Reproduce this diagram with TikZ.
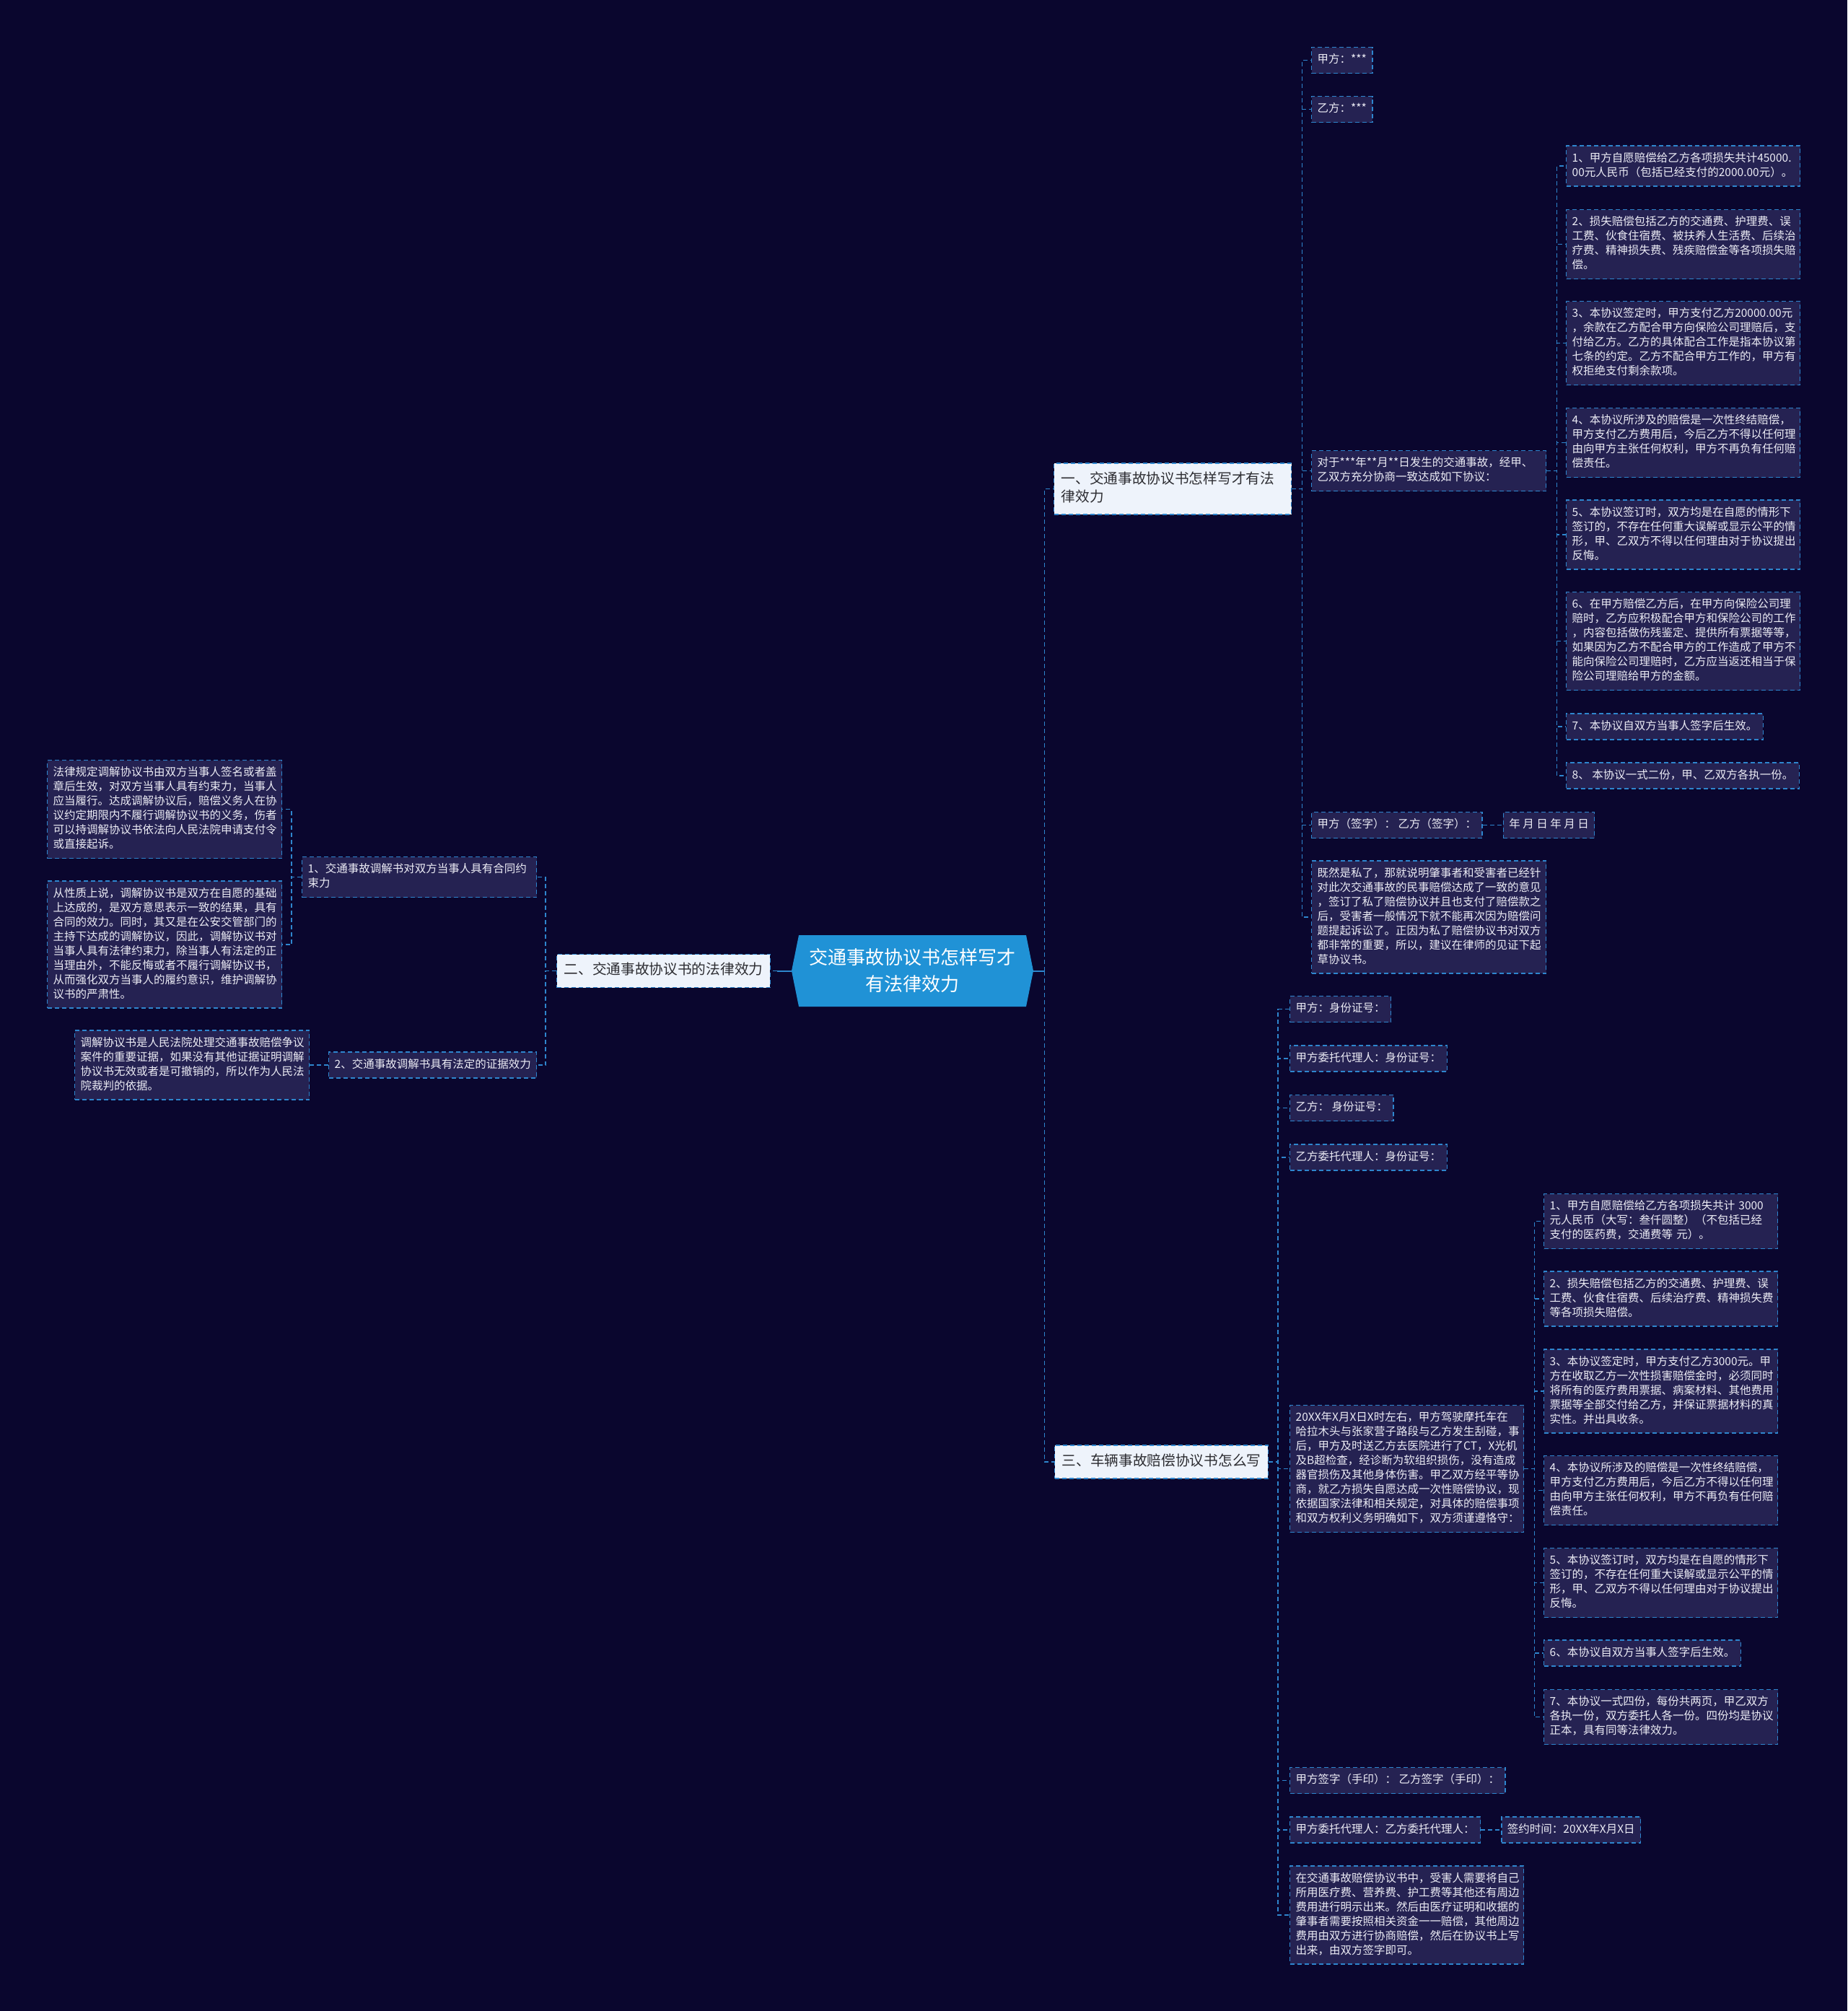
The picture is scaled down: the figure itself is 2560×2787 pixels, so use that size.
\documentclass[tikz,border=0pt]{standalone}
\usepackage{fontspec}
\newfontfamily\cjkfont{Noto Sans CJK SC}
\usepackage{xcolor}
\usepackage{tikz}
\usetikzlibrary{positioning}
\definecolor{pagebg}{RGB}{10,6,46}
\definecolor{leafbg}{RGB}{37,34,82}
\definecolor{lineblue}{RGB}{46,134,206}
\definecolor{rootblue}{RGB}{32,146,214}
\definecolor{branchbg}{RGB}{238,243,251}
\definecolor{leaftext}{RGB}{236,236,245}
\definecolor{branchtext}{RGB}{45,45,50}
\newcommand\leaffont{\cjkfont\fontsize{15.5}{20}\selectfont}
\newcommand\branchfont{\cjkfont\fontsize{19.7}{25}\selectfont}
\newcommand\rootfont{\cjkfont\fontsize{26}{37}\selectfont}
\tikzset{
  lbox/.style={rectangle,draw=lineblue,fill=leafbg,text=leaftext,font=\leaffont,
               line width=1.3pt,dash pattern=on 6pt off 4pt,inner xsep=8pt,inner ysep=8pt,
               anchor=west,align=left,execute at begin node=\strut,execute at end node=\strut},
  lboxw/.style={lbox,text width=#1},
  lboxw/.default=308pt,
  bbox/.style={rectangle,draw=lineblue,fill=branchbg,text=branchtext,font=\branchfont,
               line width=1.3pt,dash pattern=on 6pt off 4pt,inner xsep=10pt,inner ysep=10.5pt,
               anchor=west,align=left,execute at begin node=\strut,execute at end node=\strut},
  rootbox/.style={minimum width=335pt,minimum height=99pt,inner sep=0pt,text=white,
               font=\rootfont,align=center},
  conn/.style={draw=lineblue,line width=1.3pt,dash pattern=on 6pt off 4pt},
  rootline/.style={draw=lineblue,line width=2pt},
}

\begin{document}
\begin{tikzpicture}[x=1pt,y=-1pt]
  \useasboundingbox (0,0) rectangle (2560,2787);
  \fill[pagebg] (0,0) rectangle (2560,2787);

  % --- 中心主题 ---
  \coordinate (rootc) at (1264.5,1345.5);
  \fill[rootblue] (rootc) ++(-167.5,0) -- ++(10,-49.5) -- ++(315,0) -- ++(10,49.5)
    -- ++(-10,49.5) -- ++(-315,0) -- cycle;
  \node[rootbox] (root) at (rootc) {交通事故协议书怎样写才\\有法律效力};

  % --- 三个分支 ---
  \node[bbox,text width=309pt] (b1) at (1460,677.5) {一、交通事故协议书怎样写才有法\\律效力};
  \node[bbox] (b2) at (771,1345.5) {二、交通事故协议书的法律效力};
  \node[bbox] (b3) at (1461,2026) {三、车辆事故赔偿协议书怎么写};

  \draw[rootline] (root.east) -- ++(15,0) coordinate (trunk);
  \foreach \b in {b1,b3} \draw[conn] (trunk) |- (\b.west);
  \draw[rootline] (root.west) -- ++(-20,0) coordinate (lstub);
  \draw[conn] (lstub) -- (b2.east);

  % --- 分支一 ---
  \node[lbox] (jia1) at (1817,83.5) {甲方：***};
  \node[lbox] (yi1) at (1817,151.5) {乙方：***};
  \node[lboxw=309pt] (duiyu) at (1817,652.5)
    {对于***年**月**日发生的交通事故，经甲、\\乙双方充分协商一致达成如下协议：};
  \node[lbox] (sign1) at (1817,1143.5) {甲方（签字）： 乙方（签字）：};
  \node[lbox, right=28pt of sign1] (date1) {年 月 日 年 月 日};
  \node[lboxw=309pt] (jiran) at (1817,1271)
    {既然是私了，那就说明肇事者和受害者已经针\\对此次交通事故的民事赔偿达成了一致的意见\\，签订了私了赔偿协议并且也支付了赔偿款之\\后，受害者一般情况下就不能再次因为赔偿问\\题提起诉讼了。正因为私了赔偿协议书对双方\\都非常的重要，所以，建议在律师的见证下起\\草协议书。};

  \node[lboxw] (c1) at (2170,230)
    {1、甲方自愿赔偿给乙方各项损失共计45000.\\00元人民币（包括已经支付的2000.00元）。};
  \node[lboxw] (c2) at (2170,338.5)
    {2、损失赔偿包括乙方的交通费、护理费、误\\工费、伙食住宿费、被扶养人生活费、后续治\\疗费、精神损失费、残疾赔偿金等各项损失赔\\偿。};
  \node[lboxw] (c3) at (2170,475.5)
    {3、本协议签定时，甲方支付乙方20000.00元\\，余款在乙方配合甲方向保险公司理赔后，支\\付给乙方。乙方的具体配合工作是指本协议第\\七条的约定。乙方不配合甲方工作的，甲方有\\权拒绝支付剩余款项。};
  \node[lboxw] (c4) at (2170,613.5)
    {4、本协议所涉及的赔偿是一次性终结赔偿，\\甲方支付乙方费用后，今后乙方不得以任何理\\由向甲方主张任何权利，甲方不再负有任何赔\\偿责任。};
  \node[lboxw] (c5) at (2170,741)
    {5、本协议签订时，双方均是在自愿的情形下\\签订的，不存在任何重大误解或显示公平的情\\形，甲、乙双方不得以任何理由对于协议提出\\反悔。};
  \node[lboxw] (c6) at (2170,888.5)
    {6、在甲方赔偿乙方后，在甲方向保险公司理\\赔时，乙方应积极配合甲方和保险公司的工作\\，内容包括做伤残鉴定、提供所有票据等等，\\如果因为乙方不配合甲方的工作造成了甲方不\\能向保险公司理赔时，乙方应当返还相当于保\\险公司理赔给甲方的金额。};
  \node[lbox] (c7) at (2170,1007) {7、本协议自双方当事人签字后生效。};
  \node[lbox] (c8) at (2170,1075) {8、 本协议一式二份，甲、乙双方各执一份。};

  \foreach \c in {jia1,yi1,duiyu,sign1,jiran}
    \draw[conn] (b1.east) -- ++(14,0) |- (\c.west);
  \foreach \i in {1,...,8}
    \draw[conn] (duiyu.east) -- ++(14,0) |- (c\i.west);
  \draw[conn] (sign1) -- (date1);

  % --- 分支二 ---
  \node[lboxw=309pt] (law1) at (418,1215.5) {1、交通事故调解书对双方当事人具有合同约\\束力};
  \node[lbox] (law2) at (455,1476) {2、交通事故调解书具有法定的证据效力};
  \node[lboxw=309pt] (lawA) at (65,1121.5)
    {法律规定调解协议书由双方当事人签名或者盖\\章后生效，对双方当事人具有约束力，当事人\\应当履行。达成调解协议后，赔偿义务人在协\\议约定期限内不履行调解协议书的义务，伤者\\可以持调解协议书依法向人民法院申请支付令\\或直接起诉。};
  \node[lboxw=309pt] (lawB) at (65,1309)
    {从性质上说，调解协议书是双方在自愿的基础\\上达成的，是双方意思表示一致的结果，具有\\合同的效力。同时，其又是在公安交管部门的\\主持下达成的调解协议，因此，调解协议书对\\当事人具有法律约束力，除当事人有法定的正\\当理由外，不能反悔或者不履行调解协议书，\\从而强化双方当事人的履约意识，维护调解协\\议书的严肃性。};
  \node[lboxw=309pt] (lawC) at (103,1476)
    {调解协议书是人民法院处理交通事故赔偿争议\\案件的重要证据，如果没有其他证据证明调解\\协议书无效或者是可撤销的，所以作为人民法\\院裁判的依据。};

  \foreach \c in {law1,law2}
    \draw[conn] (b2.west) -- ++(-15,0) |- (\c.east);
  \foreach \c in {lawA,lawB}
    \draw[conn] (law1.west) -- ++(-14,0) |- (\c.east);
  \draw[conn] (law2) -- (lawC);

  % --- 分支三 ---
  \node[lbox] (idA) at (1787,1398.5) {甲方：身份证号：};
  \node[lbox] (agentA) at (1787,1467) {甲方委托代理人：身份证号：};
  \node[lbox] (idB) at (1787,1535.5) {乙方： 身份证号：};
  \node[lbox] (agentB) at (1787,1604) {乙方委托代理人：身份证号：};
  \node[lboxw] (accident) at (1787,2035.5)
    {20XX年X月X日X时左右，甲方驾驶摩托车在\\哈拉木头与张家营子路段与乙方发生刮碰，事\\后，甲方及时送乙方去医院进行了CT，X光机\\及B超检查，经诊断为软组织损伤，没有造成\\器官损伤及其他身体伤害。甲乙双方经平等协\\商，就乙方损失自愿达成一次性赔偿协议，现\\依据国家法律和相关规定，对具体的赔偿事项\\和双方权利义务明确如下，双方须谨遵恪守：};
  \node[lbox] (sign3) at (1787,2467.5) {甲方签字（手印）： 乙方签字（手印）：};
  \node[lbox] (agents) at (1787,2536) {甲方委托代理人：乙方委托代理人：};
  \node[lbox, right=28pt of agents] (date3) {签约时间：20XX年X月X日};
  \node[lboxw] (note3) at (1787,2654)
    {在交通事故赔偿协议书中，受害人需要将自己\\所用医疗费、营养费、护工费等其他还有周边\\费用进行明示出来。然后由医疗证明和收据的\\肇事者需要按照相关资金一一赔偿，其他周边\\费用由双方进行协商赔偿，然后在协议书上写\\出来，由双方签字即可。};

  \node[lboxw] (d1) at (2139,1692.5)
    {1、甲方自愿赔偿给乙方各项损失共计 3000\\元人民币（大写：叁仟圆整）（不包括已经\\支付的医药费，交通费等 元）。};
  \node[lboxw] (d2) at (2139,1800)
    {2、损失赔偿包括乙方的交通费、护理费、误\\工费、伙食住宿费、后续治疗费、精神损失费\\等各项损失赔偿。};
  \node[lboxw] (d3) at (2139,1928)
    {3、本协议签定时，甲方支付乙方3000元。甲\\方在收取乙方一次性损害赔偿金时，必须同时\\将所有的医疗费用票据、病案材料、其他费用\\票据等全部交付给乙方，并保证票据材料的真\\实性。并出具收条。};
  \node[lboxw] (d4) at (2139,2065.5)
    {4、本协议所涉及的赔偿是一次性终结赔偿，\\甲方支付乙方费用后，今后乙方不得以任何理\\由向甲方主张任何权利，甲方不再负有任何赔\\偿责任。};
  \node[lboxw] (d5) at (2139,2193.5)
    {5、本协议签订时，双方均是在自愿的情形下\\签订的，不存在任何重大误解或显示公平的情\\形，甲、乙双方不得以任何理由对于协议提出\\反悔。};
  \node[lbox] (d6) at (2139,2291) {6、本协议自双方当事人签字后生效。};
  \node[lboxw] (d7) at (2139,2379.5)
    {7、本协议一式四份，每份共两页，甲乙双方\\各执一份，双方委托人各一份。四份均是协议\\正本，具有同等法律效力。};

  \foreach \c in {idA,agentA,idB,agentB,accident,sign3,agents,note3}
    \draw[conn] (b3.east) -- ++(13,0) |- (\c.west);
  \foreach \i in {1,...,7}
    \draw[conn] (accident.east) -- ++(14,0) |- (d\i.west);
  \draw[conn] (agents) -- (date3);
\end{tikzpicture}
\end{document}
